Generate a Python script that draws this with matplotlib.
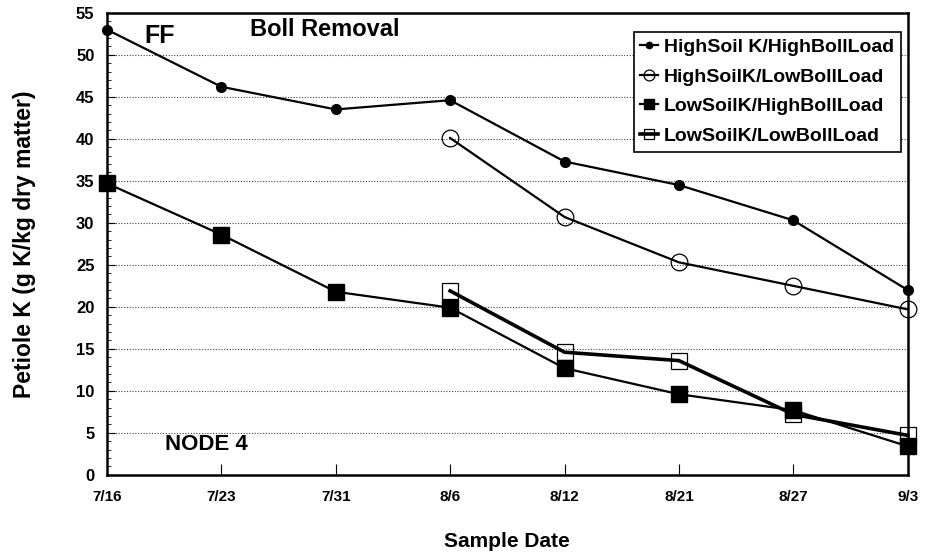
import numpy as np
import matplotlib
matplotlib.use("Agg")
import matplotlib.pyplot as plt

plt.rcParams['font.family'] = ['Liberation Sans', 'DejaVu Sans']
plt.rcParams['font.weight'] = 'bold'

# sample dates and petiole K values (g K/kg dry matter)
dates = ['7/16', '7/23', '7/31', '8/6', '8/12', '8/21', '8/27', '9/3']
high_k_high_load = [53.0, 46.2, 43.5, 44.6, 37.3, 34.5, 30.3, 22.0]
high_k_low_load = [40.1, 30.7, 25.3, 22.5, 19.7]
low_k_high_load = [34.7, 28.6, 21.8, 19.9, 12.7, 9.6, 7.7, 3.4]
low_k_low_load = [21.9, 14.6, 13.6, 7.2, 4.7]

x = np.arange(len(dates))
x_late = x[3:]

fig = plt.figure(figsize=(9.3, 5.58), dpi=100)
ax = fig.add_axes([0.115, 0.149, 0.861, 0.828])

ax.plot(x, high_k_high_load, color='black', lw=1.6, marker='o', ms=7,
        mfc='black', mec='black', clip_on=False, zorder=4,
        label='HighSoil K/HighBollLoad')
ax.plot(x_late, high_k_low_load, color='black', lw=1.6, marker='o', ms=12,
        mfc='none', mec='black', mew=0.9, clip_on=False, zorder=4,
        label='HighSoilK/LowBollLoad')
ax.plot(x, low_k_high_load, color='black', lw=1.6, marker='s', ms=11,
        mfc='black', mec='black', clip_on=False, zorder=4,
        label='LowSoilK/HighBollLoad')
ax.plot(x_late, low_k_low_load, color='black', lw=2.6, marker='s', ms=11,
        mfc='none', mec='black', mew=0.9, clip_on=False, zorder=4,
        label='LowSoilK/LowBollLoad')

ax.set_xlim(0, len(dates) - 1)
ax.set_ylim(0, 55)
ax.set_xticks(x)
ax.set_xticklabels(dates, fontsize=11, fontweight='bold')
ax.set_yticks(np.arange(0, 56, 5))
ax.set_yticks(np.arange(0, 56, 1), minor=True)
ax.tick_params(axis='y', which='major', direction='in', length=6, labelsize=12, pad=9)
ax.tick_params(axis='y', which='minor', direction='in', length=3)
ax.tick_params(axis='x', which='major', direction='in', length=8, pad=11)
for lbl in ax.get_yticklabels():
    lbl.set_fontweight('bold')

for yv in range(5, 55, 5):
    ax.axhline(yv, color='#444444', lw=0.8, ls=(0, (1, 1.5)), zorder=1)

for s in ax.spines.values():
    s.set_linewidth(1.8)

ax.set_xlabel('Sample Date', fontsize=15, fontweight='bold', labelpad=20)
ax.set_ylabel('Petiole K (g K/kg dry matter)', fontsize=16.5, fontweight='bold', labelpad=29)

ax.text(0.33, 51.4, 'FF', fontsize=18, fontweight='bold')
ax.text(1.25, 52.3, 'Boll Removal', fontsize=17, fontweight='bold')
ax.text(0.51, 3.0, 'NODE 4', fontsize=16, fontweight='bold')

leg = ax.legend(loc='upper right', bbox_to_anchor=(0.996, 0.968), fontsize=14,
                frameon=True, fancybox=False, edgecolor='black', framealpha=1,
                handlelength=0.9, handletextpad=0.3, borderpad=0.35,
                labelspacing=0.62, markerscale=0.65, borderaxespad=0.2)
leg.get_frame().set_linewidth(1.2)
for t in leg.get_texts():
    t.set_fontweight('bold')

fig.savefig('out.png', dpi=100)
